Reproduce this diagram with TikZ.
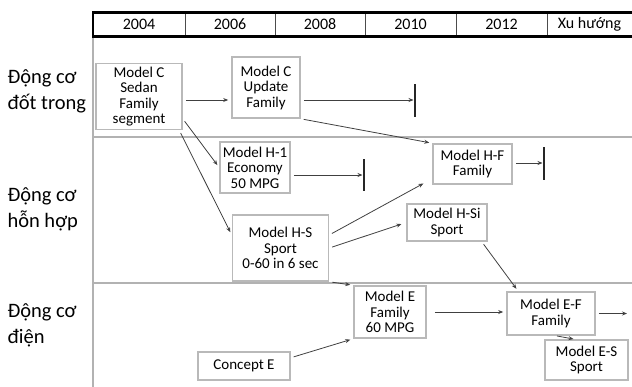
\documentclass[tikz,border=0pt]{standalone}
\usepackage{fontspec}
\setmainfont{Carlito}
\usetikzlibrary{arrows.meta}
\begin{document}
\begin{tikzpicture}[x=1pt,y=-1pt,
  model/.style={draw=gray!55,line width=1.6pt,fill=white,align=center,
    inner sep=0pt,font=\fontsize{15}{15.5}\selectfont},
  conn/.style={draw=black!75,line width=0.8pt,-{Stealth[length=5pt,width=4pt]},
    shorten <=3pt,shorten >=3pt},
  endbar/.style={line width=2.6pt,black!85},
  rowlabel/.style={anchor=west,align=left,font=\fontsize{20.5}{26}\selectfont},
  yearlabel/.style={font=\fontsize{16}{16}\selectfont},
  grid/.style={draw=gray!60,line width=1.8pt}]
\useasboundingbox (0,0) rectangle (632,386);
\clip (0,0) rectangle (632,386);

% lane frame
\draw[grid] (93,37) -- (93,390);
\draw[grid] (93,137) -- (640,137);
\draw[grid] (93,283) -- (640,283);

% year header
\draw[black!70,line width=0.6pt] (185,12) -- (185,37) (275,12) -- (275,37)
  (365,12) -- (365,37) (456,12) -- (456,37) (547,12) -- (547,37);
\draw[black,line width=2.4pt] (93,12.5) rectangle (640,36.5);
\foreach \xa/\xb/\t [count=\i] in {93/185/2004,185/275/2006,275/365/2008,
    365/456/2010,456/547/2012,547/632/Xu hướng}
  \node[yearlabel] (y\i) at ({(\xa+\xb)/2},24.5) {\t};

% lane titles
\node[rowlabel] (r1) at (4,91) {Động cơ\\đốt trong};
\node[rowlabel] (r2) at (4,209) {Động cơ\\hỗn hợp};
\node[rowlabel] (r3) at (4,325) {Động cơ\\điện};

% models
\node[model,minimum width=86,minimum height=66] (sedan) at (139,96.5)
  {Model C\\Sedan\\Family\\segment};
\node[model,minimum width=68,minimum height=61] (upd) at (266,87.5)
  {Model C\\Update\\Family};
\node[model,minimum width=70,minimum height=51] (h1) at (255,167.5)
  {Model H-1\\Economy\\50 MPG};
\node[model,minimum width=79,minimum height=40] (hf) at (472.5,164)
  {Model H-F\\Family};
\node[model,minimum width=96,minimum height=66] (hs) at (280.5,248)
  {Model H-S\\Sport\\0-60 in 6 sec};
\node[model,minimum width=80,minimum height=37] (hsi) at (447,222.5)
  {Model H-Si\\Sport};
\node[model,minimum width=72,minimum height=52] (me) at (390,312)
  {Model E\\Family\\60 MPG};
\node[model,minimum width=92,minimum height=28] (ce) at (244,366)
  {Concept E};
\node[model,minimum width=88,minimum height=43] (ef) at (551,313.5)
  {Model E-F\\Family};
\node[model,minimum width=83,minimum height=40] (es) at (586.5,360)
  {Model E-S\\Sport};

% end-of-line markers
\coordinate (b1) at (415,100);
\coordinate (b2) at (364,175);
\coordinate (b3) at (544,163);
\coordinate (efout) at (630,313.5);
\draw[endbar] (415,84) -- (415,117);
\draw[endbar] (364,159) -- (364,191);
\draw[endbar] (544,147) -- (544,180);

% transitions
\draw[conn] (sedan.east |- 0,100) -- (upd.west |- 0,100);
\draw[conn,shorten >=1.5pt] (upd.east |- 0,100) -- (b1);
\draw[conn] (upd.south east) -- (hf.north west);
\draw[conn] (sedan.-27) -- (h1.west);
\draw[conn] (sedan.-40) -- (hs.165);
\draw[conn,shorten >=1.5pt] (h1.east |- b2) -- (b2);
\draw[conn,shorten >=1.5pt] (hf.east |- b3) -- (b3);
\draw[conn,shorten >=10pt] (hs.15) -- (hf.200);
\draw[conn,shorten >=5pt] (hs.0) -- (hsi.west);
\draw[conn] (hs.south east) -- (me.north west);
\draw[conn] ([xshift=-6pt]hsi.south east) -- ([xshift=12pt]ef.north west);
\draw[conn] (ce.10) -- (me.south west);
\draw[conn,shorten <=8pt] (me.east) -- (me.east -| ef.west);
\draw[conn] (ef.east |- efout) -- (efout);
\draw[conn,shorten <=1pt,shorten >=1pt] ([xshift=5pt]ef.south) -- ([xshift=-12pt]es.north);
\end{tikzpicture}
\end{document}
